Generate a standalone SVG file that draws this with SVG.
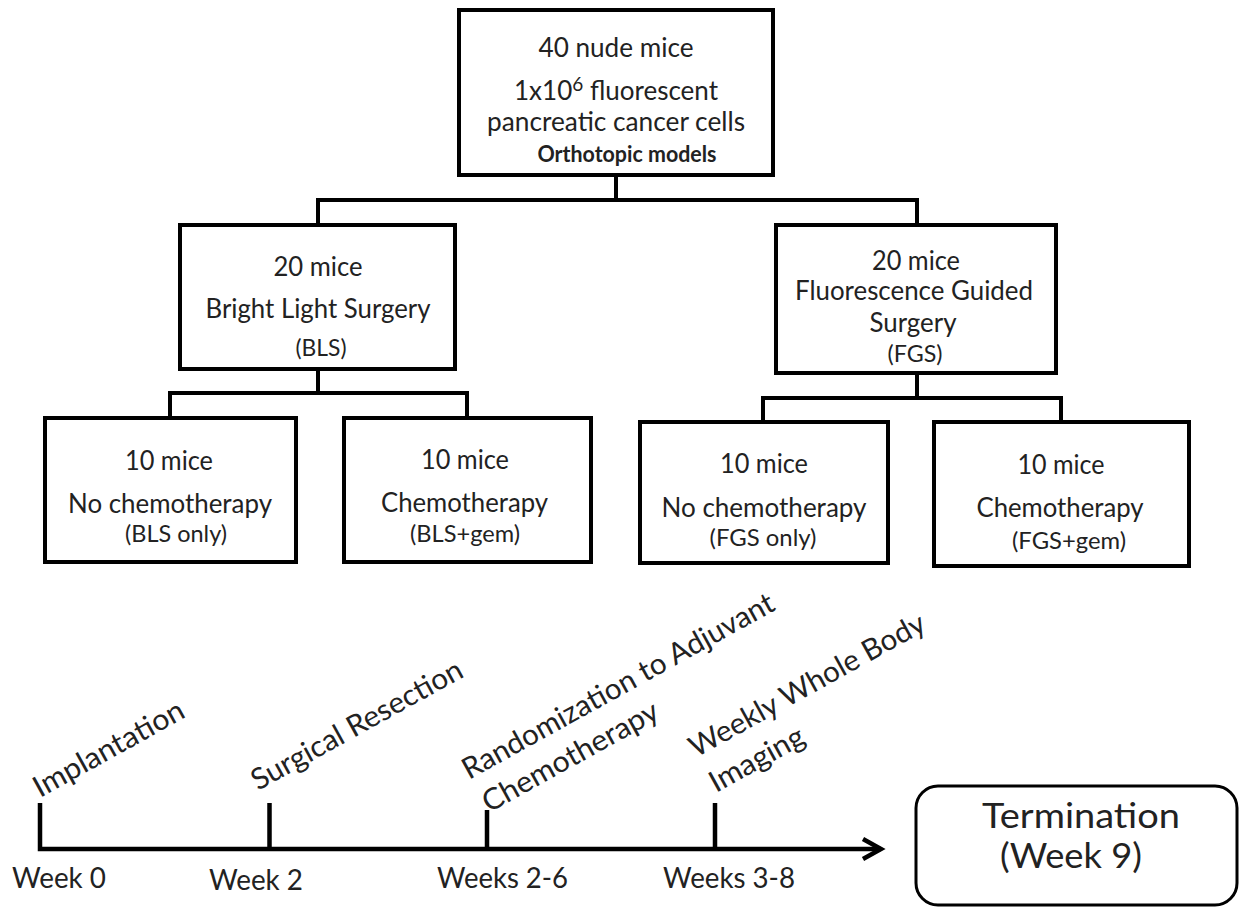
<svg xmlns="http://www.w3.org/2000/svg" width="1244" height="908" viewBox="0 0 1244 908">
<style>
.box{fill:#fff;stroke:#000;stroke-width:4}
.term{fill:#fff;stroke:#000;stroke-width:3}
.ln{fill:none;stroke:#000;stroke-width:4;stroke-linecap:square;stroke-linejoin:miter}
.tl{fill:none;stroke:#000;stroke-width:4.5;stroke-linecap:butt;stroke-linejoin:miter}
text{font-family:Lato,"Open Sans","Liberation Sans",sans-serif;fill:#222;font-style:normal}
.t{font-size:26px;text-anchor:middle}
.p{font-size:23.5px;text-anchor:middle}
.b{font-size:22px;font-weight:700;text-anchor:middle}
.w{font-size:28px}
.r{font-size:29.5px}
.tm{font-size:34px;text-anchor:middle}
.sup{font-size:19px;font-style:normal;font-weight:400}
</style>
<defs>
<marker id="arr" markerUnits="userSpaceOnUse" markerWidth="30" markerHeight="30" refX="22" refY="12" orient="auto">
<path d="M4,2L22,12L4,22" fill="none" stroke="#000" stroke-width="4.5"/>
</marker>
</defs>
<rect width="1244" height="908" fill="#fff"/>

<g id="connectors" class="ln">
<path d="M616,175V200M318,200H917M318,200V225M917,200V225"/>
<path d="M318,369V393M170,393H467M170,393V418M467,393V418"/>
<path d="M917,373V398M763,398H1061M763,398V422M1061,398V422"/>
</g>

<g id="n-root">
<rect class="box" x="459" y="10" width="314" height="165"/>
<text class="t" x="616" y="57" textLength="155" lengthAdjust="spacingAndGlyphs">40 nude mice</text>
<text class="t" x="616" y="100">1x10<tspan class="sup" dy="-9">6</tspan><tspan dy="9"> fluorescent</tspan></text>
<text class="t" x="616" y="131" textLength="258" lengthAdjust="spacingAndGlyphs">pancreatic cancer cells</text>
<text class="b" x="627" y="162" textLength="179" lengthAdjust="spacingAndGlyphs">Orthotopic models</text>
</g>

<g id="n-bls">
<rect class="box" x="180" y="225" width="275" height="144"/>
<text class="t" x="318" y="276" textLength="89" lengthAdjust="spacingAndGlyphs">20 mice</text>
<text class="t" x="318" y="318" textLength="225" lengthAdjust="spacingAndGlyphs">Bright Light Surgery</text>
<text class="p" x="321" y="356" textLength="51" lengthAdjust="spacingAndGlyphs">(BLS)</text>
</g>

<g id="n-fgs">
<rect class="box" x="776" y="225" width="280" height="148"/>
<text class="t" x="916" y="270" textLength="88" lengthAdjust="spacingAndGlyphs">20 mice</text>
<text class="t" x="914" y="300" textLength="238" lengthAdjust="spacingAndGlyphs">Fluorescence Guided</text>
<text class="t" x="913" y="332" textLength="87" lengthAdjust="spacingAndGlyphs">Surgery</text>
<text class="p" x="915" y="362" textLength="55" lengthAdjust="spacingAndGlyphs">(FGS)</text>
</g>

<g id="n-bls-only">
<rect class="box" x="45" y="418" width="251" height="144"/>
<text class="t" x="169" y="470" textLength="88" lengthAdjust="spacingAndGlyphs">10 mice</text>
<text class="t" x="170" y="513" textLength="204" lengthAdjust="spacingAndGlyphs">No chemotherapy</text>
<text class="p" x="176" y="542" textLength="102" lengthAdjust="spacingAndGlyphs">(BLS only)</text>
</g>

<g id="n-bls-gem">
<rect class="box" x="344" y="418" width="247" height="144"/>
<text class="t" x="465" y="469" textLength="88" lengthAdjust="spacingAndGlyphs">10 mice</text>
<text class="t" x="464.5" y="512" textLength="167" lengthAdjust="spacingAndGlyphs">Chemotherapy</text>
<text class="p" x="465" y="542" textLength="110" lengthAdjust="spacingAndGlyphs">(BLS+gem)</text>
</g>

<g id="n-fgs-only">
<rect class="box" x="640" y="422" width="248" height="141"/>
<text class="t" x="764" y="473" textLength="88" lengthAdjust="spacingAndGlyphs">10 mice</text>
<text class="t" x="764" y="517" textLength="205" lengthAdjust="spacingAndGlyphs">No chemotherapy</text>
<text class="p" x="763" y="546" textLength="107" lengthAdjust="spacingAndGlyphs">(FGS only)</text>
</g>

<g id="n-fgs-gem">
<rect class="box" x="934" y="422" width="255" height="144"/>
<text class="t" x="1061" y="474" textLength="87" lengthAdjust="spacingAndGlyphs">10 mice</text>
<text class="t" x="1060" y="517" textLength="167" lengthAdjust="spacingAndGlyphs">Chemotherapy</text>
<text class="p" x="1069" y="549" textLength="114" lengthAdjust="spacingAndGlyphs">(FGS+gem)</text>
</g>

<g id="timeline">
<path class="tl" d="M40,803V849H881" marker-end="url(#arr)"/>
<path class="tl" d="M269.5,803V849M487,810V849M715,803V849"/>
<text class="w" x="12" y="888" textLength="94" lengthAdjust="spacingAndGlyphs">Week 0</text>
<text class="w" x="209" y="890" textLength="94" lengthAdjust="spacingAndGlyphs">Week 2</text>
<text class="w" x="437" y="888" textLength="131" lengthAdjust="spacingAndGlyphs">Weeks 2-6</text>
<text class="w" x="663" y="888" textLength="132" lengthAdjust="spacingAndGlyphs">Weeks 3-8</text>
<text class="r" transform="translate(40,798) rotate(-29)" textLength="168" lengthAdjust="spacingAndGlyphs">Implantation</text>
<text class="r" transform="translate(258,791) rotate(-29)" textLength="237" lengthAdjust="spacingAndGlyphs">Surgical Resection</text>
<text class="r" transform="translate(469,780) rotate(-29)" textLength="352" lengthAdjust="spacingAndGlyphs">Randomization to Adjuvant</text>
<text class="r" transform="translate(489,813) rotate(-29)" textLength="197" lengthAdjust="spacingAndGlyphs">Chemotherapy</text>
<text class="r" transform="translate(696,758) rotate(-29)" textLength="265" lengthAdjust="spacingAndGlyphs">Weekly Whole Body</text>
<text class="r" transform="translate(716,793) rotate(-29)" textLength="104" lengthAdjust="spacingAndGlyphs">Imaging</text>
</g>

<g id="n-termination">
<rect class="term" x="916" y="786" width="321" height="119" rx="22" ry="22"/>
<text class="tm" x="1081" y="828" textLength="198" lengthAdjust="spacingAndGlyphs">Termination</text>
<text class="tm" x="1071" y="868" textLength="142" lengthAdjust="spacingAndGlyphs">(Week 9)</text>
</g>
</svg>
